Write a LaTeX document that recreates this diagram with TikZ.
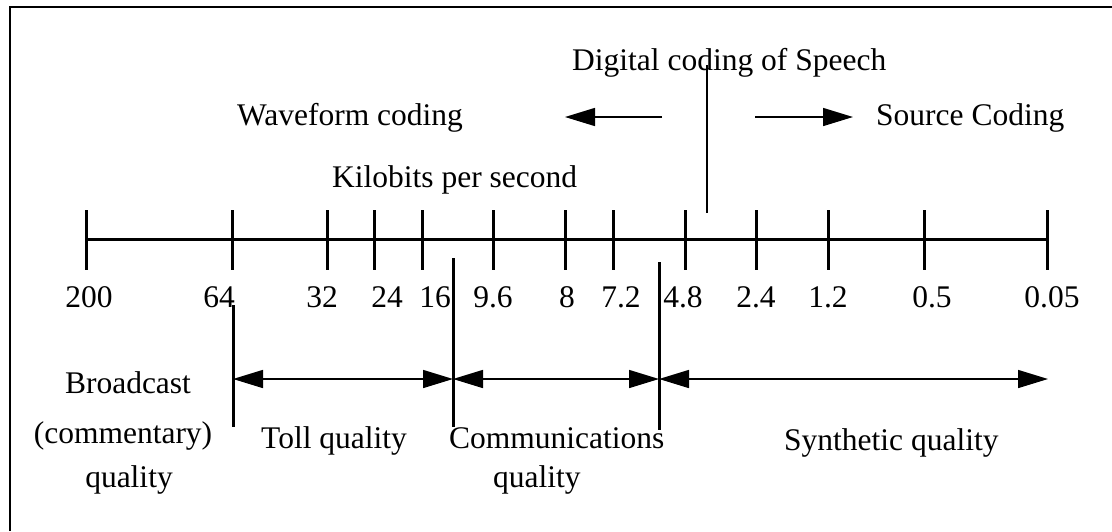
\documentclass[tikz,border=0pt]{standalone}
\usepackage{fontspec}
\setmainfont{Liberation Serif}
\usetikzlibrary{arrows.meta}

\begin{document}
\begin{tikzpicture}[x=1pt,y=-1pt,
  txt/.style={inner sep=0pt, font=\fontsize{31.5}{36}\selectfont},
  ctxt/.style={txt, anchor=base},
  ltxt/.style={txt, anchor=base west},
  axisline/.style={line width=3pt},
  axistick/.style={line width=3pt},
  divider/.style={line width=3pt},
  thinline/.style={line width=1.8pt},
  onearrow/.style={line width=1.5pt,-{Triangle[length=30pt,width=18pt]}},
  twoarrow/.style={line width=1.5pt,{Triangle[length=30pt,width=18pt]}-{Triangle[length=30pt,width=18pt]}}]

\useasboundingbox (0,0) rectangle (1112,531);

% open frame: left and top edges
\draw[line width=2pt] (10,531) -- (10,7) -- (1112,7);

% headings
\node[ltxt] (digital) at (572,70) {Digital coding of Speech};
\node[ltxt] (wave) at (237,125) {Waveform coding};
\node[ltxt] (source) at (876,125) {Source Coding};
\node[ltxt] (kbps) at (332,187) {Kilobits per second};

% waveform / source direction arrows
\coordinate (wl0) at (662,117);
\coordinate (wl1) at (565,117);
\coordinate (sr0) at (755,117);
\coordinate (sr1) at (853,117);
\draw[onearrow] (wl0) -- (wl1);
\draw[onearrow] (sr0) -- (sr1);

% split line between the two coding families
\coordinate (sp0) at (707,65);
\coordinate (sp1) at (707,213);
\draw[thinline] (sp0) -- (sp1);

% rate axis
\coordinate (ax0) at (86,239);
\coordinate (ax1) at (1047,239);
\draw[axisline] (ax0) -- (ax1);

% ticks and their rate labels
\foreach \tx/\lx/\rate [count=\i] in {86/89/200, 232/219/64, 327/322/32, 374/387/24,
    422/435/16, 493/493/9.6, 565/567/8, 613/621/7.2, 685/683/4.8,
    756/756/2.4, 828/828/1.2, 924/932/0.5, 1047/1052/0.05}{
  \coordinate (t\i a) at (\tx,210);
  \coordinate (t\i b) at (\tx,270);
  \draw[axistick] (t\i a) -- (t\i b);
  \node[ctxt] (r\i) at (\lx,307) {\rate};
}

% quality band dividers
\coordinate (dA0) at (233,305);
\coordinate (dA1) at (233,427);
\coordinate (dB0) at (453,258);
\coordinate (dB1) at (453,427);
\coordinate (dC0) at (659,262);
\coordinate (dC1) at (659,430);
\draw[divider] (dA0) -- (dA1);
\draw[divider] (dB0) -- (dB1);
\draw[divider] (dC0) -- (dC1);

% quality band ranges
\coordinate (qA) at (233,379);
\coordinate (qB) at (453,379);
\coordinate (qC) at (659,379);
\coordinate (qD) at (1048,379);
\draw[twoarrow] (qA) -- (qB);
\draw[twoarrow] (qB) -- (qC);
\draw[twoarrow] (qC) -- (qD);

% quality band names
\node[ctxt] (bc1) at (128,393) {Broadcast};
\node[ctxt] (bc2) at (123,443) {(commentary)};
\node[ctxt] (bc3) at (129,487) {quality};
\node[ltxt] (toll) at (261,448) {Toll quality};
\node[ltxt] (com1) at (449,448) {Communications};
\node[ltxt] (com2) at (493,487) {quality};
\node[ltxt] (syn) at (784,450) {Synthetic quality};
\end{tikzpicture}
\end{document}
